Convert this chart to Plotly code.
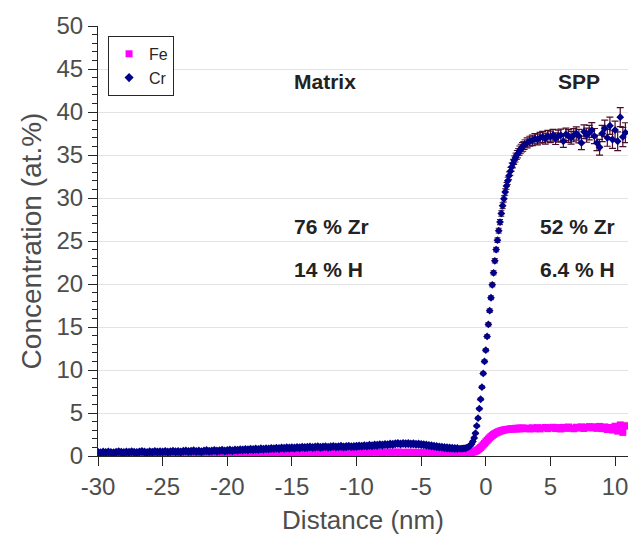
import numpy as np
import plotly.graph_objects as go

# Distance sampling (nm): coarse in the matrix, fine across the interface, coarse in the SPP
dist_matrix = np.round(np.arange(-30.0, -2.19, 0.2), 2)
dist_interface = np.round(np.arange(-2.0, 3.01, 0.1), 2)
dist_spp = np.round(np.arange(3.2, 10.81, 0.2), 2)

x_ticks = [-30, -25, -20, -15, -10, -5, 0, 5, 10]
x_ticklabels = ["-30", "-25", "-20", "-15", "-10", "-5", "0", "5", "10"]

# Cr concentration (at.%)
cr_matrix = [
    0.42, 0.38, 0.45, 0.40, 0.47, 0.41, 0.36, 0.44, 0.49, 0.43, 0.39, 0.46, 0.42, 0.50, 0.44, 0.40, 0.47, 0.52, 0.45, 0.41, 0.48, 0.44, 0.51, 0.46, 0.49,
    0.47, 0.53, 0.45, 0.50, 0.56, 0.49, 0.52, 0.46, 0.55, 0.58, 0.51, 0.54, 0.60, 0.53, 0.57, 0.50, 0.59, 0.62, 0.55, 0.58, 0.64, 0.57, 0.61, 0.66, 0.59,
    0.63, 0.68, 0.61, 0.70, 0.66, 0.73, 0.69, 0.75, 0.71, 0.78, 0.74, 0.80, 0.76, 0.83, 0.79, 0.85, 0.81, 0.88, 0.84, 0.90, 0.86, 0.93, 0.89, 0.95, 0.91,
    0.96, 0.92, 0.99, 0.95, 1.02, 0.97, 1.00, 1.05, 0.98, 1.03, 1.07, 1.00, 1.04, 1.08, 1.02, 1.06, 1.10, 1.04, 1.08, 1.12, 1.05, 1.09, 1.13, 1.07, 1.11,
    1.12, 1.16, 1.13, 1.19, 1.17, 1.23, 1.20, 1.26, 1.24, 1.30, 1.27, 1.34, 1.31, 1.38, 1.35, 1.42,
    1.45, 1.40, 1.46, 1.42, 1.44, 1.39, 1.41, 1.36, 1.38,
    1.33, 1.30, 1.26, 1.22, 1.18, 1.13, 1.09, 1.05, 1.01, 0.97, 0.94, 0.92, 0.90, 0.88, 0.87,
]
cr_interface = [
    0.86, 0.85, 0.86, 0.88, 0.90, 0.94, 1.00, 1.08, 1.20, 1.40, 1.70,
    2.10, 2.65, 3.50, 4.40, 5.50, 6.60, 8.00, 9.60, 11.0, 12.3,
    13.9, 15.3, 16.9, 18.4, 19.9, 21.3, 22.7, 24.0, 25.1, 26.2,
    27.2, 28.2, 29.1, 29.9, 30.7, 31.4, 32.0, 32.6, 33.1, 33.6,
    34.0, 34.4, 34.7, 35.0, 35.2, 35.5, 35.7, 35.9, 36.0, 36.2,
]
cr_interface_err = [
    0.05, 0.05, 0.05, 0.05, 0.05, 0.05, 0.05, 0.06, 0.06, 0.07, 0.08,
    0.09, 0.10, 0.11, 0.12, 0.13, 0.14, 0.15, 0.16, 0.17, 0.18,
    0.19, 0.20, 0.21, 0.22, 0.23, 0.24, 0.25, 0.26, 0.27, 0.28,
    0.30, 0.32, 0.34, 0.36, 0.38, 0.40, 0.42, 0.44, 0.46, 0.48,
    0.50, 0.50, 0.52, 0.52, 0.54, 0.54, 0.55, 0.55, 0.56, 0.56,
]
cr_spp = [
    36.4, 36.6, 36.7, 36.9, 36.8, 37.0, 37.1, 36.9, 37.2, 37.1,
    37.3, 36.9, 37.2, 37.3, 36.6, 37.4, 37.2, 37.0, 37.3, 37.5,
    37.2, 36.4, 37.7, 37.3, 37.6, 37.9, 37.2, 36.4, 35.9, 37.5,
    38.1, 37.0, 38.4, 36.8, 37.9, 36.6, 39.4, 37.1, 37.6,
]
cr_spp_err = [
    0.58, 0.58, 0.60, 0.60, 0.62, 0.62, 0.64, 0.64, 0.66, 0.66,
    0.68, 0.68, 0.70, 0.70, 0.72, 0.72, 0.74, 0.74, 0.76, 0.76,
    0.78, 0.78, 0.80, 0.82, 0.84, 0.86, 0.88, 0.90, 0.92, 0.94,
    0.96, 0.98, 1.00, 1.02, 1.05, 1.08, 1.10, 1.12, 1.15,
]

# Fe concentration (at.%)
fe_matrix = [
    0.12, 0.10, 0.14, 0.11, 0.13, 0.15, 0.12, 0.10, 0.14, 0.13, 0.16, 0.12, 0.15, 0.13, 0.11, 0.16, 0.14, 0.17, 0.13, 0.15, 0.18, 0.14, 0.16, 0.19, 0.15,
    0.17, 0.14, 0.18, 0.16, 0.19, 0.15, 0.20, 0.17, 0.21, 0.18, 0.16, 0.22, 0.19, 0.21, 0.18, 0.23, 0.20, 0.22, 0.19, 0.24, 0.21, 0.23, 0.20, 0.25, 0.22,
    0.24, 0.21, 0.26, 0.23, 0.25, 0.27, 0.24, 0.28, 0.26, 0.29, 0.25, 0.30, 0.27, 0.29, 0.31, 0.28, 0.30, 0.32, 0.29, 0.33, 0.30, 0.32, 0.34, 0.31, 0.33,
    0.35, 0.32, 0.34, 0.36, 0.33, 0.37, 0.35, 0.38, 0.34, 0.37, 0.39, 0.36, 0.38, 0.40, 0.37, 0.39, 0.41, 0.38, 0.40, 0.42, 0.39, 0.41, 0.43, 0.40, 0.42,
    0.43, 0.40, 0.44, 0.41, 0.45, 0.42, 0.44, 0.46, 0.43, 0.45, 0.41, 0.44, 0.46, 0.42, 0.45, 0.43, 0.46, 0.42, 0.44, 0.41, 0.45, 0.42, 0.44, 0.40, 0.43,
    0.41, 0.44, 0.40, 0.42, 0.39, 0.41, 0.38, 0.40, 0.37, 0.39, 0.36, 0.38, 0.35, 0.37, 0.36,
]
fe_interface = [
    0.35, 0.37, 0.34, 0.36, 0.35, 0.37, 0.36, 0.38, 0.40, 0.42, 0.45,
    0.50, 0.56, 0.64, 0.74, 0.86, 0.99, 1.14, 1.30, 1.47, 1.64,
    1.81, 1.97, 2.12, 2.26, 2.39, 2.50, 2.60, 2.69, 2.76, 2.83,
    2.89, 2.94, 2.98, 3.02, 3.05, 3.08, 3.10, 3.12, 3.14, 3.15,
    3.17, 3.13, 3.22, 3.15, 3.24, 3.16, 3.26, 3.17, 3.25, 3.19,
]
fe_spp = [
    3.24, 3.14, 3.28, 3.17, 3.30, 3.15, 3.26, 3.32, 3.18, 3.29,
    3.34, 3.19, 3.31, 3.14, 3.33, 3.21, 3.37, 3.23, 3.17, 3.35,
    3.24, 3.39, 3.20, 3.33, 3.42, 3.26, 3.40, 3.21, 3.44, 3.18,
    3.38, 3.08, 3.32, 3.02, 3.46, 2.90, 3.60, 2.75, 3.50,
]
fe_spp_err = [
    0.10, 0.10, 0.11, 0.11, 0.11, 0.12, 0.12, 0.12, 0.12, 0.13,
    0.13, 0.13, 0.14, 0.14, 0.14, 0.15, 0.15, 0.15, 0.16, 0.16,
    0.17, 0.17, 0.18, 0.18, 0.19, 0.19, 0.20, 0.21, 0.21, 0.22,
    0.23, 0.24, 0.26, 0.28, 0.30, 0.32, 0.35, 0.38, 0.42,
]

FE_COLOR = "#ff00ff"
CR_COLOR = "#00008b"
CR_ERR_COLOR = "#4a0d2a"
FE_ERR_COLOR = "#f4a340"
FONT = "Liberation Sans, Arial, Helvetica, sans-serif"

fig = go.Figure()

# Fe: matrix + interface, then SPP with error bars
fig.add_trace(go.Scatter(
    x=np.concatenate([dist_matrix, dist_interface]),
    y=fe_matrix + fe_interface,
    mode="markers", name="Fe", legendgroup="fe",
    marker=dict(symbol="square", size=7, color=FE_COLOR, line=dict(width=0)),
))
fig.add_trace(go.Scatter(
    x=dist_spp, y=fe_spp, mode="markers", name="Fe", legendgroup="fe", showlegend=False,
    marker=dict(symbol="square", size=7, color=FE_COLOR, line=dict(width=0)),
    error_y=dict(type="data", array=fe_spp_err, color=FE_ERR_COLOR, thickness=1, width=3),
))

# Cr: matrix, interface and SPP (error bars where they are resolved)
fig.add_trace(go.Scatter(
    x=dist_matrix, y=cr_matrix,
    mode="markers", name="Cr", legendgroup="cr",
    marker=dict(symbol="diamond", size=7, color=CR_COLOR, line=dict(width=0)),
))
fig.add_trace(go.Scatter(
    x=dist_interface, y=cr_interface, mode="markers", name="Cr", legendgroup="cr", showlegend=False,
    marker=dict(symbol="diamond", size=6, color=CR_COLOR, line=dict(width=0)),
    error_y=dict(type="data", array=cr_interface_err, color=CR_ERR_COLOR, thickness=1, width=3),
))
fig.add_trace(go.Scatter(
    x=dist_spp, y=cr_spp, mode="markers", name="Cr", legendgroup="cr", showlegend=False,
    marker=dict(symbol="diamond", size=6, color=CR_COLOR, line=dict(width=0)),
    error_y=dict(type="data", array=cr_spp_err, color=CR_ERR_COLOR, thickness=1.2, width=3.5),
))

# Region labels and compositions
labels = [
    (-15, 43.6, "Matrix"), (5.4, 43.6, "SPP"),
    (-15, 26.7, "76 % Zr"), (4.0, 26.7, "52 % Zr"),
    (-15, 21.7, "14 % H"), (4.0, 21.7, "6.4 % H"),
]
for lx, ly, txt in labels:
    fig.add_annotation(x=lx, y=ly, text=f"<b>{txt}</b>", showarrow=False,
                       xanchor="left", yanchor="middle",
                       font=dict(family=FONT, size=21, color="#222222"))

fig.update_layout(
    width=640, height=544,
    margin=dict(l=98, r=12, t=20, b=88),
    paper_bgcolor="white", plot_bgcolor="white",
    font=dict(family=FONT, color="#4d4d4d"),
    showlegend=True,
    legend=dict(x=0.019, y=0.977, xanchor="left", yanchor="top",
                bgcolor="white", bordercolor="#262626", borderwidth=1,
                font=dict(family=FONT, size=16, color="#262626"),
                itemwidth=30, tracegroupgap=0),
)
fig.update_xaxes(
    range=[-30, 11], tickmode="array", tickvals=x_ticks, ticktext=x_ticklabels,
    ticks="outside", ticklen=9, tickcolor="#262626", showgrid=False, zeroline=False,
    showline=True, linecolor="#262626", linewidth=1,
    tickfont=dict(family=FONT, size=24, color="#4d4d4d"),
    title=dict(text="Distance (nm)", font=dict(family=FONT, size=26, color="#4d4d4d"), standoff=12),
)
fig.update_yaxes(
    range=[0, 50], tickmode="linear", tick0=0, dtick=5,
    ticks="outside", ticklen=9, tickcolor="#262626",
    minor=dict(dtick=1, ticks="outside", ticklen=5, tickcolor="#262626", showgrid=False),
    showgrid=True, gridcolor="#e3e3e3", gridwidth=1, zeroline=False,
    showline=True, linecolor="#262626", linewidth=1,
    tickfont=dict(family=FONT, size=24, color="#4d4d4d"),
    title=dict(text="Concentration (at.%)", font=dict(family=FONT, size=28, color="#4d4d4d"), standoff=6),
)

fig.write_html("out.html")
